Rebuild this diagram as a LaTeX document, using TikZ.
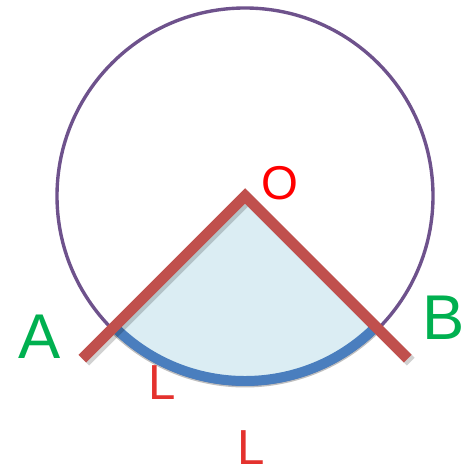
\documentclass[tikz,border=0pt]{standalone}
\usepackage{fontspec}
\setmainfont{Liberation Sans}
\usetikzlibrary{calc}
\definecolor{rimpurple}{RGB}{110,82,140}
\definecolor{sectorfill}{RGB}{219,237,243}
\definecolor{arcblue}{RGB}{74,126,190}
\definecolor{radiusred}{RGB}{192,80,77}
\definecolor{labelgreen}{RGB}{0,176,80}
\definecolor{labelred}{RGB}{228,50,46}

\begin{document}
\begin{tikzpicture}[
    x=0.02cm, y=0.02cm,
    rim/.style={draw=rimpurple, line width=3.4*0.567pt},
    radiusline/.style={draw=radiusred, line width=11*0.567pt},
    shade line/.style={draw=black, opacity=0.18, line width=11*0.567pt},
    bluearc/.style={draw=arcblue, line width=10*0.567pt},
    pointlabel/.style={text=labelgreen, inner sep=0pt, font=\fontsize{36}{36}\selectfont},
    lenlabel/.style={text=labelred, inner sep=0pt, font=\fontsize{28}{28}\selectfont}
  ]
  \useasboundingbox (0,0) rectangle (471,476);

  \coordinate (O) at (245,280);
  \coordinate (A) at ($(O)+(225:230)$);
  \coordinate (B) at ($(O)+(315:230)$);

  % circle and sector
  \draw[rim] (O) circle[radius=188];
  \fill[sectorfill] (O) -- ($(O)+(225:185)$) arc[start angle=225, end angle=315, radius=185] -- cycle;
  \draw[draw=black, opacity=0.25, line width=10*0.567pt] ($(O)+(225:186.5)$) arc[start angle=225, end angle=315, radius=186.5];
  \draw[bluearc] ($(O)+(225:185)$) arc[start angle=225, end angle=315, radius=185];

  % radii
  \draw[shade line] ([shift={(3,-3)}]A) -- ([shift={(3,-3)}]O) -- ([shift={(3,-3)}]B);
  \draw[radiusline] (A) -- (O) -- (B);

  \node[text=red, inner sep=0pt, font=\fontsize{27}{27}\selectfont] (lblO) at (280,293) {O};
  \node[pointlabel] (lblA) at (40,139) {A};
  \node[pointlabel] (lblB) at (444,158) {B};
  \node[lenlabel] (lblLarc) at (162,93) {L};
  \node[lenlabel] (lblL) at (251,28) {L};
\end{tikzpicture}
\end{document}
